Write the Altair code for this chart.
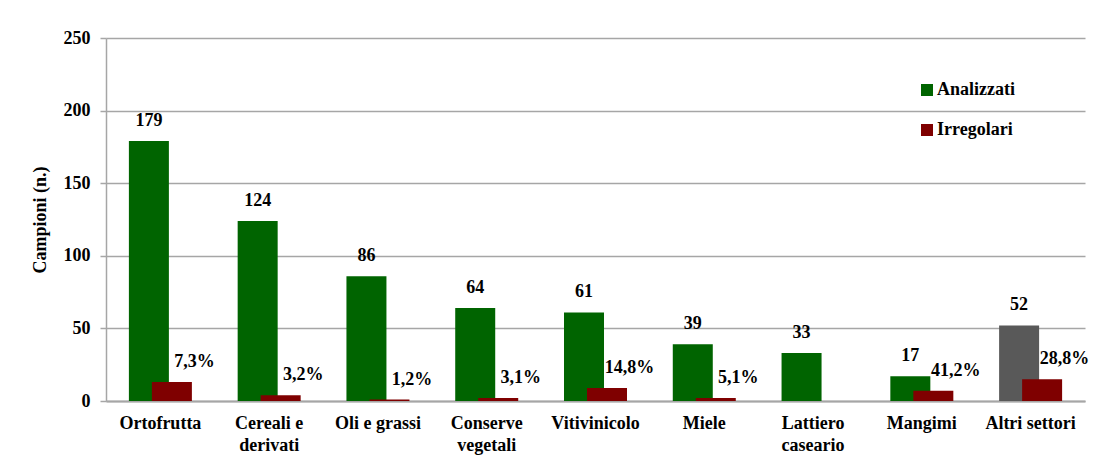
import altair as alt
import pandas as pd

categories = ["Ortofrutta", "Cereali e\nderivati", "Oli e grassi", "Conserve\nvegetali",
              "Vitivinicolo", "Miele", "Lattiero\ncaseario", "Mangimi", "Altri settori"]
analizzati = [179, 124, 86, 64, 61, 39, 33, 17, 52]
irregolari = [13, 4, 1, 2, 9, 2, 0, 7, 15]
percentuali = ["7,3%", "3,2%", "1,2%", "3,1%", "14,8%", "5,1%", "", "41,2%", "28,8%"]
serie_analizzati = ["Analizzati", "Analizzati", "Analizzati", "Analizzati", "Analizzati",
                    "Analizzati", "Analizzati", "Analizzati", "Altri"]
serie_irregolari = ["Irregolari"] * len(categories)

df = pd.DataFrame({
    "categoria": categories,
    "analizzati": analizzati,
    "irregolari": irregolari,
    "pct": percentuali,
    "s_a": serie_analizzati,
    "s_i": serie_irregolari,
})

FONT = "'Liberation Serif', 'DejaVu Serif', serif"
GRID = "#a6a6a6"
FS = 18

x = alt.X(
    "categoria:N", sort=categories,
    scale=alt.Scale(paddingInner=0, paddingOuter=0),
    axis=alt.Axis(title=None, labelExpr="split(datum.label, '\\n')", labelAngle=0,
                  labelFont=FONT, labelFontSize=FS, labelFontWeight="bold", labelColor="black",
                  labelLineHeight=22, labelPadding=13, ticks=False,
                  domainColor=GRID, domainWidth=2, grid=False),
)
y_axis = alt.Axis(title="Campioni (n.)", values=[0, 50, 100, 150, 200, 250],
                  labelFont=FONT, labelFontSize=FS, labelFontWeight="bold", labelColor="black",
                  labelPadding=10, tickSize=6, tickColor=GRID, tickWidth=1.5,
                  domainColor=GRID, domainWidth=1.5, gridColor=GRID, gridWidth=1.5,
                  titleFont=FONT, titleFontSize=FS, titleFontWeight="bold", titleColor="black",
                  titleAngle=-90, titleX=-66, titleY=181.5, titleAlign="center",
                  titleBaseline="middle")
y_scale = alt.Scale(domain=[0, 250])

color_scale = alt.Scale(domain=["Analizzati", "Irregolari", "Altri"],
                        range=["#006400", "#7f0000", "#595959"])
legend = alt.Legend(title=None, values=["Analizzati", "Irregolari"], orient="none",
                    legendX=812, legendY=43, symbolType="square", symbolSize=144,
                    symbolStrokeWidth=0, labelFont=FONT, labelFontSize=FS,
                    labelFontWeight="bold", labelColor="black", rowPadding=22,
                    labelOffset=1, padding=0)

base = alt.Chart(df)

bar_a = base.mark_bar(width=40, xOffset=-11.5).encode(
    x=x,
    y=alt.Y("analizzati:Q", scale=y_scale, axis=y_axis),
    color=alt.Color("s_a:N", scale=color_scale, legend=legend),
)
bar_i = base.mark_bar(width=40, xOffset=11.5).encode(
    x=x,
    y=alt.Y("irregolari:Q", scale=y_scale),
    color=alt.Color("s_i:N", scale=color_scale, legend=legend),
)
txt_a = base.mark_text(dx=-11.5, dy=-20, baseline="middle", align="center", font=FONT,
                       fontSize=FS, fontWeight="bold", color="black").encode(
    x=x, y=alt.Y("analizzati:Q", scale=y_scale), text="analizzati:Q")
txt_i = base.mark_text(dx=34, dy=-20, baseline="middle", align="center", font=FONT,
                       fontSize=FS, fontWeight="bold", color="black").encode(
    x=x, y=alt.Y("irregolari:Q", scale=y_scale), text="pct:N")

chart = alt.layer(bar_a, bar_i, txt_a, txt_i).properties(
    width=979, height=363,
    autosize=alt.AutoSizeParams(type="none"),
    padding={"left": 98, "top": 30, "right": 20, "bottom": 61},
).configure_view(stroke=None)

chart.save("out.html", embed_options={"renderer": "svg", "actions": False})
